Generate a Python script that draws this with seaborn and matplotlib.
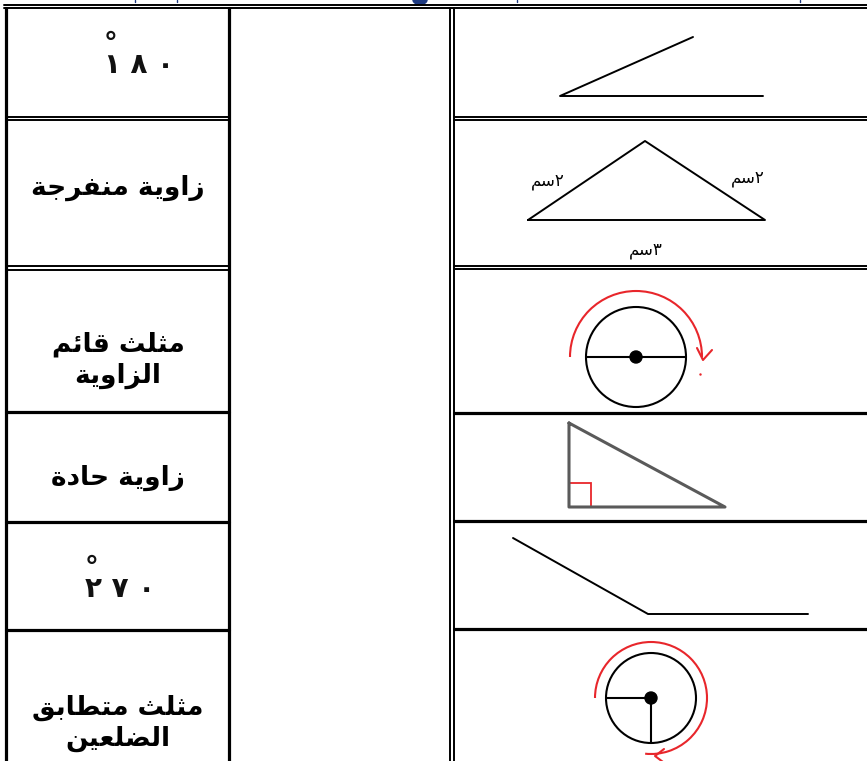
import numpy as np
import pandas as pd
from matplotlib import pyplot as plt
from matplotlib.patches import Circle, Arc, Rectangle, Ellipse
import seaborn as sns

sns.set_theme(style='white')
plt.rcParams['font.family'] = ['DejaVu Sans']

# worksheet content (left column labels, right column drawings)
left_labels = ['١٨٠', 'زاوية منفرجة', 'مثلث قائم\nالزاوية', 'زاوية حادة', '٢٧٠', 'مثلث متطابق\nالضلعين']
label_x = [104, 118, 118, 118, 85, 118]
label_y = [73, 188, 360, 478, 597, 723]

side_labels = ['٢سم', '٢سم', '٣سم']
side_label_xy = [(548, 181), (748, 178), (646, 250)]

acute_angle = {'x': [693, 560, 763], 'y': [37, 96, 96]}
obtuse_triangle = {'x': [528, 645, 765, 528], 'y': [220, 141, 220, 220]}
right_triangle = {'x': [569, 569, 725, 569], 'y': [423, 507, 507, 423]}
reflex_angle = {'x': [513, 648, 808], 'y': [538, 614, 614]}

# table lines
col_single = [5.5, 228.5]
col_double = [450, 454]
left_seps = [(116.5, 119.5), (266, 269.5), 412, 521.5, 630]
right_seps = [(116.5, 119.5), (265.5, 269), 413, 521, 629]

FORMS = {
    'ا': ('\uFE8D', '\uFE8E', None, None),
    'ب': ('\uFE8F', '\uFE90', '\uFE91', '\uFE92'),
    'ة': ('\uFE93', '\uFE94', None, None),
    'ت': ('\uFE95', '\uFE96', '\uFE97', '\uFE98'),
    'ث': ('\uFE99', '\uFE9A', '\uFE9B', '\uFE9C'),
    'ج': ('\uFE9D', '\uFE9E', '\uFE9F', '\uFEA0'),
    'ح': ('\uFEA1', '\uFEA2', '\uFEA3', '\uFEA4'),
    'د': ('\uFEA9', '\uFEAA', None, None),
    'ر': ('\uFEAD', '\uFEAE', None, None),
    'ز': ('\uFEAF', '\uFEB0', None, None),
    'س': ('\uFEB1', '\uFEB2', '\uFEB3', '\uFEB4'),
    'ض': ('\uFEBD', '\uFEBE', '\uFEBF', '\uFEC0'),
    'ط': ('\uFEC1', '\uFEC2', '\uFEC3', '\uFEC4'),
    'ع': ('\uFEC9', '\uFECA', '\uFECB', '\uFECC'),
    'ف': ('\uFED1', '\uFED2', '\uFED3', '\uFED4'),
    'ق': ('\uFED5', '\uFED6', '\uFED7', '\uFED8'),
    'ل': ('\uFEDD', '\uFEDE', '\uFEDF', '\uFEE0'),
    'م': ('\uFEE1', '\uFEE2', '\uFEE3', '\uFEE4'),
    'ن': ('\uFEE5', '\uFEE6', '\uFEE7', '\uFEE8'),
    'و': ('\uFEED', '\uFEEE', None, None),
    'ي': ('\uFEF1', '\uFEF2', '\uFEF3', '\uFEF4'),
    'ئ': ('\uFE89', '\uFE8A', '\uFE8B', '\uFE8C'),
}


def shape_word(word):
    out = []
    for i, ch in enumerate(word):
        if ch not in FORMS:
            out.append(ch)
            continue
        prev = word[i - 1] if i > 0 else ''
        nxt = word[i + 1] if i + 1 < len(word) else ''
        joins_prev = prev in FORMS and FORMS[prev][2] is not None
        joins_next = nxt in FORMS and FORMS[ch][2] is not None
        iso, fin, ini, med = FORMS[ch]
        if joins_prev and joins_next:
            out.append(med)
        elif joins_prev:
            out.append(fin)
        elif joins_next:
            out.append(ini)
        else:
            out.append(iso)
    return ''.join(out)


def rtl(text):
    # shape letters, then lay out right-to-left keeping digit runs in order
    lines = []
    for line in text.split('\n'):
        shaped = shape_word(line)
        runs, cur, cur_digit = [], '', None
        for ch in shaped:
            d = ch.isdigit()
            if cur and d != cur_digit:
                runs.append((cur, cur_digit))
                cur = ''
            cur += ch
            cur_digit = d
        if cur:
            runs.append((cur, cur_digit))
        lines.append(''.join(r if d else r[::-1] for r, d in reversed(runs)))
    return '\n'.join(lines)


fig = plt.figure(figsize=(8.67, 7.61), dpi=100)
ax = fig.add_axes([0, 0, 1, 1])
ax.set_xlim(0, 867)
ax.set_ylim(761, 0)
ax.axis('off')

lw_thick = 2.3
lw_thin = 1.4

# top double line
ax.plot([4, 867], [4.5, 4.5], color='black', lw=lw_thin)
ax.plot([4, 867], [8, 8], color='black', lw=lw_thin)
for x in col_single:
    ax.plot([x, x], [8, 761], color='black', lw=lw_thick)
for x in col_double:
    ax.plot([x, x], [8, 761], color='black', lw=lw_thin)
for seps, x0, x1 in [(left_seps, 5.5, 228.5), (right_seps, 454, 867)]:
    for s in seps:
        if isinstance(s, tuple):
            for y in s:
                ax.plot([x0, x1], [y, y], color='black', lw=lw_thin)
        else:
            ax.plot([x0, x1], [s, s], color='black', lw=lw_thick)

# cut-off header marks
ax.add_patch(Ellipse((420, 0), 14, 9, color='#1f3b82'))
for x in [135, 177, 517, 800]:
    ax.plot([x, x], [0, 2], color='#1f3b82', lw=1)

# left column labels
for txt, x, y in zip(left_labels, label_x, label_y):
    if txt[0].isdigit():
        # degree sign sits above the first digit
        ax.text(x, y, '°\n' + ' '.join(txt), ha='left', va='baseline',
                multialignment='left', fontsize=20, fontweight='bold',
                color='#111111', linespacing=0.66)
    else:
        ax.text(x, y, rtl(txt), ha='center', va='center', fontsize=19,
                fontweight='bold', color='black', linespacing=1.25)

# right column drawings
line_kw = dict(sort=False, estimator=None, color='black', linewidth=1.4, ax=ax)
sns.lineplot(x=acute_angle['x'], y=acute_angle['y'], **line_kw)
sns.lineplot(x=obtuse_triangle['x'], y=obtuse_triangle['y'], **line_kw)
sns.lineplot(x=reflex_angle['x'], y=reflex_angle['y'], **line_kw)
tri_kw = dict(line_kw, color='#5a5a5a', linewidth=2.2)
sns.lineplot(x=right_triangle['x'], y=right_triangle['y'], **tri_kw)
ax.add_patch(Rectangle((569, 483), 22, 24, fill=False, edgecolor='#e8262b', lw=1.3))

for txt, (x, y) in zip(side_labels, side_label_xy):
    ax.text(x, y, rtl(txt), ha='center', va='center', fontsize=12, color='black')

# half turn
c1 = (636, 357)
ax.add_patch(Circle(c1, 50, fill=False, edgecolor='black', lw=1.5))
ax.plot([c1[0] - 50, c1[0] + 50], [c1[1], c1[1]], color='black', lw=1.5)
ax.add_patch(Circle(c1, 6, color='black'))
ax.add_patch(Arc(c1, 132, 132, theta1=180, theta2=360, color='#e8262b', lw=1.5))
ax.plot([697, 703, 712], [348, 360, 350], color='#e8262b', lw=1.5)
ax.plot([700], [374], marker='.', ms=1.5, color='#e8262b')

# three-quarter turn
c2 = (651, 698)
ax.add_patch(Circle(c2, 45, fill=False, edgecolor='black', lw=1.5))
ax.plot([c2[0] - 45, c2[0]], [c2[1], c2[1]], color='black', lw=1.5)
ax.plot([c2[0], c2[0]], [c2[1], c2[1] + 45], color='black', lw=1.5)
ax.add_patch(Circle(c2, 6, color='black'))
ax.add_patch(Arc(c2, 112, 112, theta1=180, theta2=360, color='#e8262b', lw=1.5))
ax.add_patch(Arc(c2, 112, 112, theta1=0, theta2=96, color='#e8262b', lw=1.5))
ax.plot([664, 655, 663], [749, 756, 762], color='#e8262b', lw=1.5)

fig.savefig('out.png', dpi=100)
